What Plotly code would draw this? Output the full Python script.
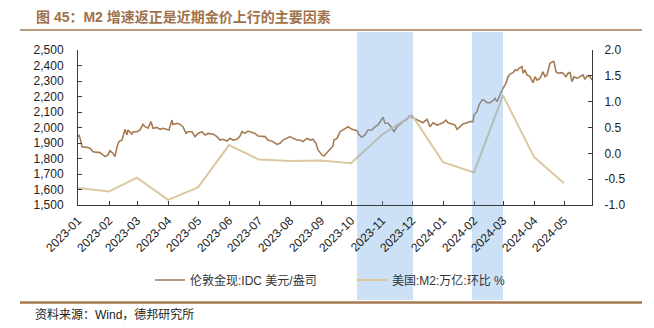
import pandas as pd
import plotly.graph_objects as go

# London spot gold (USD/oz), sampled by day offset from 2023-01-01
gold_day = [0, 1, 3, 4, 9, 12, 15, 19, 22, 27, 30, 32, 35, 37, 39, 41, 44, 47, 49, 50,
            52, 54, 55, 59, 62, 65, 67, 70, 73, 75, 79, 82, 85, 89, 91, 94, 95, 99, 102, 105,
            108, 110, 114, 117, 120, 124, 127, 130, 135, 139, 142, 145, 149, 152, 155, 159, 162, 164, 167, 170,
            174, 177, 180, 184, 187, 190, 195, 199, 202, 205, 209, 212, 215, 219, 222, 225, 229, 232, 235, 238,
            240, 244, 246, 249, 252, 255, 256, 259, 262, 265, 268, 270, 274, 279,
            281, 284, 287, 290, 294, 297, 300, 303, 305, 307, 310, 313, 315, 316, 319, 322, 325, 329, 331, 334,
            336, 339, 342, 345, 349, 352, 355, 359, 362, 365, 368, 370, 374, 377, 379, 382, 385, 389, 392, 395,
            396, 399, 401, 404, 406, 409, 412, 415, 417, 419, 421, 424, 425, 428, 430, 432, 435, 437, 439, 441,
            444, 445, 447, 449, 452, 455, 457, 459, 462, 465, 467, 469, 472, 475, 476, 478, 480, 483, 485, 488,
            490, 492, 494, 496, 499, 502, 505, 507, 509, 512, 514]
gold_price = [1941, 1952, 1909, 1876, 1872, 1866, 1844, 1838, 1838, 1812, 1823, 1851, 1833, 1812, 1876, 1909, 1919, 1988, 1952, 1984,
              1973, 1958, 1973, 1973, 1984, 2020, 2005, 1995, 2038, 1995, 2001, 1988, 1995, 1988, 1984, 2048, 2020, 2027, 2020, 2005,
              1962, 1973, 1973, 1941, 1962, 1973, 1952, 1962, 1958, 1941, 1919, 1924, 1913, 1930, 1919, 1924, 1945, 1973, 1962, 1977,
              1967, 1962, 1945, 1945, 1941, 1919, 1909, 1891, 1898, 1919, 1930, 1941, 1930, 1919, 1919, 1909, 1930, 1919, 1924, 1898,
              1855, 1823, 1816, 1838, 1866, 1881, 1919, 1930, 1973, 1984, 1995, 2005, 1988, 1980,
              1952, 1937, 1952, 1984, 1984, 2005, 2016, 2048, 2066, 2027, 2027, 2005, 1984, 1973, 2005, 2023, 2038, 2053, 2074, 2066,
              2059, 2048, 2038, 2031, 2053, 2005, 2031, 2016, 2023, 2031, 2048, 2031, 2023, 2016, 1988, 2005, 2023, 2031, 2038, 2038,
              2081, 2102, 2145, 2177, 2177, 2160, 2160, 2173, 2188, 2167, 2199, 2242, 2253, 2285, 2328, 2345, 2354, 2371, 2367, 2382,
              2393, 2350, 2371, 2339, 2328, 2289, 2328, 2306, 2317, 2360, 2328, 2339, 2414, 2425, 2425, 2360, 2350, 2354, 2350, 2328,
              2350, 2354, 2296, 2328, 2317, 2328, 2339, 2311, 2332, 2328, 2306]

# US M2, month-on-month change (%)
m2_month = ["2023-01-01", "2023-02-01", "2023-03-01", "2023-04-01", "2023-05-01", "2023-06-01",
            "2023-07-01", "2023-08-01", "2023-09-01", "2023-10-01", "2023-11-01", "2023-12-01",
            "2024-01-01", "2024-02-01", "2024-03-01", "2024-04-01", "2024-05-01"]
m2_mom = [-0.67, -0.74, -0.47, -0.90, -0.66, 0.16, -0.12, -0.15, -0.14, -0.19, 0.36, 0.74,
          -0.17, -0.37, 1.12, -0.07, -0.58]

# Highlighted periods
shade_periods = [("2023-10-07", "2023-12-02"), ("2024-01-30", "2024-03-01")]

left_ticks = [1500, 1600, 1700, 1800, 1900, 2000, 2100, 2200, 2300, 2400, 2500]
right_ticks = [-1.0, -0.5, 0.0, 0.5, 1.0, 1.5, 2.0]
right_tick_text = ["-1.0", "-0.5", "0.0", "0.5", "1.0", "1.5", "2.0"]

gold_name = "伦敦金现:IDC 美元/盎司"
m2_name = "美国:M2:万亿:环比 %"
title_text = "图 45：M2 增速返正是近期金价上行的主要因素"
source_text = "资料来源：Wind，德邦研究所"

gold_dates = pd.Timestamp("2023-01-01") + pd.to_timedelta(gold_day, unit="D")

W, H = 654, 328
L, R, T, B = 78, 62, 50, 123
PW, PH = W - L - R, H - T - B


def px(x):
    return (x - L) / PW


def py(y):
    return (H - B - y) / PH


FONT = "Liberation Sans, Arial, Noto Sans CJK SC, sans-serif"
GOLD = "#A57B51"
M2C = "#DCC8A0"
AXC = "#3a3a3a"
RULE = "#A57A52"

fig = go.Figure()
fig.add_trace(go.Scatter(x=m2_month, y=m2_mom, name=m2_name, yaxis="y2", mode="lines",
                         line=dict(color=M2C, width=2)))
fig.add_trace(go.Scatter(x=gold_dates, y=gold_price, name=gold_name, mode="lines",
                         line=dict(color=GOLD, width=1.6)))

shapes = []
for a, b in shade_periods:
    # opaque parts outside the plotting area (behind tick labels and legend)
    shapes.append(dict(type="rect", xref="x", yref="paper", x0=a, x1=b, y0=py(300), y1=0,
                       fillcolor="#CCE0F6", line_width=0, layer="below"))
    shapes.append(dict(type="rect", xref="x", yref="paper", x0=a, x1=b, y0=1, y1=py(32),
                       fillcolor="#CCE0F6", line_width=0, layer="below"))
    # translucent part over the lines
    shapes.append(dict(type="rect", xref="x", yref="paper", x0=a, x1=b, y0=0, y1=1,
                       fillcolor="rgba(109,168,231,0.35)", line_width=0, layer="above"))

# header and footer rules
shapes.append(dict(type="line", xref="paper", yref="paper", x0=px(20), x1=px(642), y0=py(30), y1=py(30),
                   line=dict(color=RULE, width=1.5)))
shapes.append(dict(type="line", xref="paper", yref="paper", x0=px(20), x1=px(642), y0=py(302.5), y1=py(302.5),
                   line=dict(color=RULE, width=2.5)))

annotations = [
    dict(text=title_text, xref="paper", yref="paper", x=px(34), y=py(17),
         xanchor="left", yanchor="middle", showarrow=False,
         font=dict(family=FONT, size=14, color="#A0714A", weight="bold")),
    dict(text=source_text, xref="paper", yref="paper", x=px(33), y=py(314),
         xanchor="left", yanchor="middle", showarrow=False,
         font=dict(family=FONT, size=12, color="#222222")),
]

fig.update_layout(
    width=W, height=H,
    margin=dict(l=L, r=R, t=T, b=B, pad=0),
    paper_bgcolor="white", plot_bgcolor="rgba(0,0,0,0)",
    font=dict(family=FONT, size=12, color="#222222"),
    showlegend=True,
    legend=dict(orientation="h", x=px(150), xanchor="left", y=py(280), yanchor="middle",
                entrywidth=157, entrywidthmode="pixels",
                bgcolor="rgba(0,0,0,0)", font=dict(family=FONT, size=12, color="#333333"),
                traceorder="reversed"),
    xaxis=dict(type="date", range=["2023-01-01", "2024-05-29"], dtick="M1", tick0="2023-01-01",
               tickformat="%Y-%m", tickangle=-45, ticks="inside", ticklen=4, tickcolor=AXC,
               ticklabelstandoff=3,
               showline=True, linecolor=AXC, linewidth=1, showgrid=False, zeroline=False,
               tickfont=dict(size=12, color="#222222")),
    yaxis=dict(range=[1500, 2500], tickvals=left_ticks, tickformat=",", ticks="inside", ticklen=4,
               ticklabelstandoff=11,
               tickcolor=AXC, showline=True, linecolor=AXC, linewidth=1, showgrid=False,
               zeroline=False, tickfont=dict(size=12, color="#222222")),
    yaxis2=dict(range=[-1, 2], overlaying="y", side="right", tickvals=right_ticks,
                ticktext=right_tick_text, ticks="inside", ticklen=4, tickcolor=AXC,
                ticklabelstandoff=9,
                showline=True, linecolor=AXC, linewidth=1, showgrid=False, zeroline=False,
                tickfont=dict(size=12, color="#222222")),
    shapes=shapes,
    annotations=annotations,
)

fig.write_html("out.html")
